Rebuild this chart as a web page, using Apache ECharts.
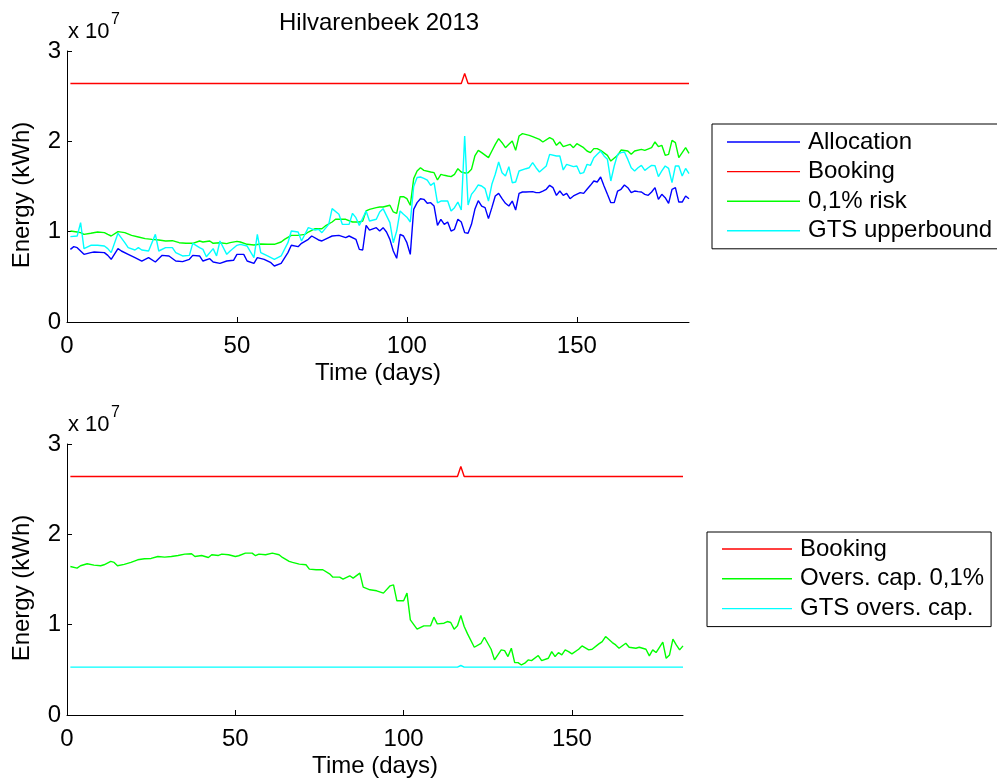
<!DOCTYPE html>
<html><head><meta charset="utf-8">
<script src="https://cdn.jsdelivr.net/npm/echarts@6/dist/echarts.min.js"></script>
<style>html,body{margin:0;padding:0;background:#fff}#c{width:997px;height:780px}</style>
</head><body><div id="c"></div>
<script>
// values in units of 10^7 kWh, [day, value]
const xTicks = [0, 50, 100, 150];
const yTicks = [0, 1, 2, 3];
const titleText = 'Hilvarenbeek 2013';
const topNames = ['Allocation', 'Booking', '0,1% risk', 'GTS upperbound'];
const bottomNames = ['Booking', 'Overs. cap. 0,1%', 'GTS overs. cap.'];

const booking = [[1,2.64],[116,2.64],[117,2.75],[118,2.64],[183,2.64]];
const gtsOversCap = [[1,0.53],[116,0.53],[117,0.548],[118,0.53],[183,0.53]];

const allocation = [[1,0.804],[2,0.834],[3,0.823],[5,0.749],[7,0.768],[8,0.775],[11,0.768],[12,0.738],[13,0.694],[15,0.812],[16,0.786],[18,0.749],[20,0.712],[22,0.675],[24,0.712],[26,0.664],[28,0.738],[30,0.731],[32,0.675],[34,0.668],[36,0.694],[37,0.738],[39,0.731],[40,0.675],[42,0.701],[43,0.664],[45,0.649],[47,0.675],[49,0.683],[50,0.749],[52,0.749],[53,0.675],[55,0.649],[56,0.712],[58,0.694],[60,0.657],[61,0.620],[63,0.649],[65,0.768],[66,0.849],[68,0.834],[69,0.871],[71,0.915],[72,0.952],[74,0.908],[75,0.897],[77,0.934],[78,0.952],[80,0.959],[82,0.934],[83,0.952],[85,0.915],[86,0.804],[87,0.797],[88,1.070],[89,1.018],[91,1.044],[92,1.007],[93,1.044],[94,0.996],[95,0.915],[96,0.786],[97,0.705],[98,0.970],[99,0.952],[100,0.878],[101,0.749],[102,1.247],[103,1.321],[104,1.365],[105,1.358],[106,1.314],[107,1.321],[108,1.284],[109,1.070],[110,1.137],[111,1.081],[112,1.107],[113,1.007],[114,1.026],[115,1.137],[116,1.107],[117,0.989],[118,0.982],[119,1.081],[120,1.247],[121,1.343],[122,1.284],[123,1.266],[124,1.144],[125,1.266],[126,1.395],[127,1.424],[128,1.365],[129,1.314],[130,1.284],[131,1.339],[132,1.240],[133,1.424],[134,1.439],[135,1.439],[137,1.443],[138,1.432],[139,1.432],[140,1.450],[141,1.469],[142,1.513],[143,1.487],[144,1.402],[145,1.450],[146,1.402],[147,1.424],[148,1.365],[149,1.395],[151,1.432],[152,1.424],[153,1.469],[154,1.513],[155,1.561],[156,1.550],[157,1.605],[158,1.506],[159,1.413],[160,1.321],[161,1.321],[162,1.450],[163,1.469],[164,1.517],[165,1.487],[166,1.432],[167,1.450],[168,1.443],[169,1.439],[170,1.413],[171,1.402],[172,1.439],[173,1.487],[174,1.358],[175,1.413],[176,1.376],[177,1.314],[178,1.469],[179,1.487],[180,1.328],[181,1.328],[182,1.395],[183,1.365]];

const risk = [[1,1.007],[3,0.996],[4,0.989],[5,0.970],[7,0.982],[9,0.996],[11,0.989],[12,0.970],[13,0.952],[15,1.000],[17,0.989],[19,0.959],[21,0.941],[23,0.923],[25,0.915],[27,0.908],[29,0.897],[31,0.900],[33,0.878],[35,0.871],[37,0.871],[39,0.897],[40,0.886],[42,0.897],[43,0.871],[45,0.878],[47,0.867],[48,0.878],[50,0.893],[51,0.886],[53,0.860],[55,0.852],[57,0.863],[59,0.860],[61,0.860],[63,0.886],[64,0.915],[66,0.959],[68,0.959],[70,0.970],[71,0.996],[73,1.033],[75,1.033],[76,1.063],[78,1.107],[79,1.137],[81,1.137],[82,1.137],[84,1.107],[86,1.107],[87,1.118],[88,1.229],[89,1.247],[91,1.266],[92,1.273],[93,1.273],[95,1.292],[96,1.218],[97,1.203],[98,1.387],[99,1.387],[100,1.365],[101,1.292],[102,1.587],[103,1.672],[104,1.708],[105,1.679],[107,1.661],[108,1.653],[109,1.572],[110,1.635],[111,1.624],[112,1.616],[113,1.609],[114,1.635],[115,1.697],[116,1.661],[117,1.650],[118,1.653],[119,1.690],[120,1.838],[121,1.900],[122,1.875],[124,1.819],[125,1.893],[126,1.967],[127,2.030],[128,1.985],[129,1.930],[130,1.967],[131,2.004],[132,1.900],[133,2.059],[134,2.085],[136,2.066],[137,2.052],[139,2.022],[140,1.993],[142,2.041],[143,2.022],[144,1.956],[145,1.993],[146,1.941],[148,1.967],[149,1.930],[150,1.974],[152,1.930],[153,1.893],[154,1.875],[155,1.919],[156,1.919],[157,1.900],[159,1.845],[160,1.782],[162,1.845],[163,1.904],[165,1.893],[166,1.856],[167,1.893],[169,1.911],[170,1.900],[172,1.930],[173,1.993],[174,1.941],[175,1.956],[176,1.845],[177,1.856],[178,2.011],[179,1.985],[180,1.819],[181,1.875],[182,1.930],[183,1.867]];

const gtsUpper = [[1,0.945],[3,0.952],[4,1.100],[5,0.812],[7,0.849],[9,0.849],[11,0.841],[12,0.812],[13,0.768],[15,0.982],[17,0.878],[18,0.823],[20,0.797],[21,0.823],[22,0.797],[24,0.786],[26,0.970],[27,0.786],[29,0.823],[31,0.823],[32,0.768],[34,0.731],[36,0.738],[37,0.871],[39,0.823],[40,0.804],[41,0.723],[43,0.812],[44,0.731],[45,0.897],[47,0.749],[48,0.786],[50,0.849],[51,0.860],[53,0.841],[55,0.712],[56,0.970],[57,0.768],[59,0.731],[61,0.694],[63,0.731],[65,0.878],[66,1.007],[68,0.996],[69,0.897],[71,1.044],[73,1.018],[74,1.026],[75,0.989],[77,1.081],[78,1.255],[80,1.192],[81,1.081],[83,1.081],[84,1.203],[85,1.155],[86,1.070],[88,1.229],[89,1.118],[91,1.137],[92,1.218],[93,1.255],[95,1.100],[96,0.878],[97,1.007],[98,1.229],[99,1.192],[100,1.160],[101,1.107],[102,1.500],[103,1.600],[104,1.605],[105,1.590],[106,1.570],[107,1.513],[108,1.542],[109,1.320],[110,1.339],[111,1.339],[112,1.339],[113,1.229],[114,1.266],[115,1.328],[116,1.240],[117,2.059],[118,1.295],[119,1.413],[120,1.460],[121,1.517],[122,1.506],[123,1.476],[124,1.339],[125,1.524],[126,1.635],[127,1.771],[128,1.653],[129,1.616],[130,1.720],[131,1.542],[132,1.550],[133,1.672],[135,1.697],[136,1.708],[137,1.764],[138,1.708],[139,1.661],[141,1.727],[142,1.856],[144,1.838],[145,1.838],[146,1.683],[147,1.745],[149,1.720],[150,1.727],[151,1.642],[152,1.653],[153,1.745],[154,1.734],[155,1.819],[156,1.856],[157,1.893],[158,1.838],[159,1.801],[160,1.561],[161,1.727],[162,1.856],[163,1.875],[164,1.882],[165,1.800],[166,1.708],[167,1.672],[168,1.708],[169,1.734],[170,1.679],[171,1.708],[172,1.734],[173,1.730],[174,1.609],[175,1.672],[176,1.727],[177,1.700],[178,1.542],[179,1.727],[180,1.727],[181,1.616],[182,1.700],[183,1.642]];

const oversCap = [[1,1.644],[3,1.626],[4,1.652],[6,1.674],[8,1.659],[10,1.652],[11,1.663],[13,1.700],[14,1.689],[15,1.652],[17,1.667],[19,1.689],[21,1.718],[23,1.729],[25,1.733],[27,1.755],[29,1.748],[31,1.755],[33,1.766],[35,1.781],[37,1.785],[38,1.755],[40,1.766],[42,1.744],[43,1.774],[45,1.766],[46,1.781],[48,1.774],[50,1.755],[51,1.763],[53,1.792],[55,1.792],[56,1.763],[57,1.781],[59,1.774],[61,1.792],[63,1.774],[64,1.744],[66,1.700],[67,1.689],[69,1.670],[71,1.663],[72,1.615],[74,1.608],[76,1.608],[78,1.563],[79,1.526],[81,1.526],[82,1.504],[84,1.541],[85,1.515],[87,1.571],[88,1.415],[90,1.386],[92,1.375],[94,1.349],[96,1.430],[97,1.441],[98,1.264],[100,1.264],[101,1.349],[102,1.053],[104,0.950],[106,0.987],[108,0.987],[109,1.083],[110,1.009],[112,1.016],[113,1.035],[114,1.024],[115,0.950],[116,0.987],[117,1.101],[118,0.979],[119,0.898],[121,0.750],[123,0.794],[124,0.861],[126,0.728],[127,0.610],[128,0.665],[129,0.721],[130,0.713],[131,0.647],[132,0.739],[133,0.580],[134,0.580],[135,0.554],[136,0.573],[137,0.610],[138,0.602],[140,0.658],[141,0.602],[143,0.628],[144,0.702],[145,0.647],[146,0.691],[147,0.665],[148,0.721],[149,0.702],[150,0.676],[152,0.728],[153,0.765],[155,0.721],[156,0.728],[158,0.787],[159,0.813],[160,0.868],[162,0.802],[163,0.776],[164,0.739],[166,0.794],[167,0.750],[169,0.739],[170,0.750],[172,0.728],[173,0.654],[174,0.721],[175,0.691],[177,0.806],[178,0.628],[179,0.665],[180,0.839],[181,0.776],[182,0.721],[183,0.765]];

const FONT = "'Liberation Sans', Arial, Helvetica, sans-serif";
const chart = echarts.init(document.getElementById('c'), null, {renderer: 'canvas'});

function xAxisCfg(gridIndex) {
  return {
    type: 'value', gridIndex: gridIndex, min: 0, max: 183,
    axisLine: {show: true, onZero: false, lineStyle: {color: '#000', width: 1}},
    axisTick: {show: true, inside: true, length: 5, customValues: xTicks, lineStyle: {color: '#000'}},
    axisLabel: {customValues: xTicks, margin: 12, color: '#000', fontSize: 24, fontFamily: FONT},
    splitLine: {show: false},
    name: 'Time (days)', nameLocation: 'middle', nameGap: 39,
    nameTextStyle: {color: '#000', fontSize: 24, fontFamily: FONT}
  };
}
function yAxisCfg(gridIndex) {
  return {
    type: 'value', gridIndex: gridIndex, min: 0, max: 3, interval: 1,
    axisLine: {show: true, onZero: false, lineStyle: {color: '#000', width: 1}},
    axisTick: {show: true, inside: true, length: 5, lineStyle: {color: '#000'}},
    axisLabel: {margin: 6, color: '#000', fontSize: 24, fontFamily: FONT, padding: [4, 0, 0, 0]},
    splitLine: {show: false}
  };
}
function lineSeries(name, data, color, xi) {
  return {
    type: 'line', name: name, data: data, xAxisIndex: xi, yAxisIndex: xi,
    symbol: 'none', showSymbol: false, animation: false,
    lineStyle: {color: color, width: 1.4}, itemStyle: {color: color}
  };
}
function textEl(text, x, y, size, extra) {
  return Object.assign({
    type: 'text', x: x, y: y,
    style: {text: text, fill: '#000', font: size + 'px ' + FONT, align: 'left', verticalAlign: 'middle'}
  }, extra || {});
}
function legendCfg(names, left, top, itemWidth, gap, padding) {
  return {
    data: names, orient: 'vertical', left: left, top: top,
    icon: 'rect', itemWidth: itemWidth, itemHeight: 1.4, itemGap: gap,
    padding: padding, borderColor: '#000', borderWidth: 1, backgroundColor: '#fff', selectedMode: false,
    textStyle: {color: '#000', fontSize: 24, fontFamily: FONT, lineHeight: 24, padding: [0, 0, 0, 3]}
  };
}

const option = {
  backgroundColor: '#fff',
  animation: false,
  title: {text: titleText, left: 279, top: 11, padding: 0,
    textStyle: {color: '#000', fontSize: 24, fontWeight: 'normal', fontFamily: FONT}},
  grid: [
    {left: 67, top: 51, width: 622, height: 271},
    {left: 67, top: 444, width: 616, height: 271}
  ],
  xAxis: [xAxisCfg(0), xAxisCfg(1)],
  yAxis: [yAxisCfg(0), yAxisCfg(1)],
  legend: [
    legendCfg(topNames, 712, 124, 73, 5.6, [6, 7, 6, 15]),
    legendCfg(bottomNames, 707, 532, 70, 5.8, [5, 7, 6, 15])
  ],
  graphic: [
    textEl('x 10', 68, 31.5, 22),
    textEl('7', 111, 19.5, 16),
    textEl('x 10', 68, 424.5, 22),
    textEl('7', 111, 412.5, 16),
    textEl('Energy (kWh)', 22, 195, 24, {rotation: Math.PI / 2, style: {text: 'Energy (kWh)', fill: '#000', font: '24px ' + FONT, align: 'center', verticalAlign: 'middle'}}),
    textEl('Energy (kWh)', 22, 588, 24, {rotation: Math.PI / 2, style: {text: 'Energy (kWh)', fill: '#000', font: '24px ' + FONT, align: 'center', verticalAlign: 'middle'}})
  ],
  series: [
    lineSeries('Allocation', allocation, '#0000ff', 0),
    lineSeries('Booking', booking, '#ff0000', 0),
    lineSeries('0,1% risk', risk, '#00ff00', 0),
    lineSeries('GTS upperbound', gtsUpper, '#00ffff', 0),
    lineSeries('Booking', booking, '#ff0000', 1),
    lineSeries('Overs. cap. 0,1%', oversCap, '#00ff00', 1),
    lineSeries('GTS overs. cap.', gtsOversCap, '#00ffff', 1)
  ]
};
chart.setOption(option);
</script>
</body></html>
